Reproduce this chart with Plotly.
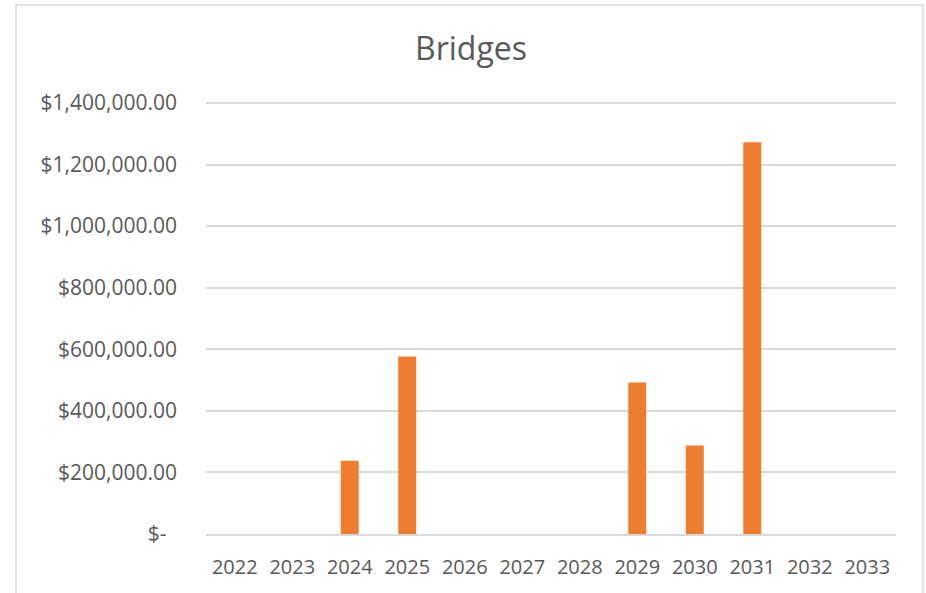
import plotly.graph_objects as go

# Annual bridge spending by year
years = ["2022", "2023", "2024", "2025", "2026", "2027",
         "2028", "2029", "2030", "2031", "2032", "2033"]
spending = [0, 0, 238000, 576600, 0, 0, 0, 492000, 287700, 1272700, 0, 0]

# Y axis ticks in accounting style
y_ticks = [0, 200000, 400000, 600000, 800000, 1000000, 1200000, 1400000]
y_tick_labels = ["$-\u2002" if v == 0 else f"${v:,.2f}" for v in y_ticks]
y_max = 1406500  # headroom so the top gridline is not clipped at the edge

W, H = 926, 593
L, R, T, B = 206, 30, 101, 59
pw, ph = W - L - R, H - T - B

def px_x(x):
    return (x - L) / pw

def px_y(y):
    return (H - B - y) / ph

text_color = "#595959"
grid_color = "#d9d9d9"
font_family = "Open Sans, Liberation Sans, sans-serif"

fig = go.Figure(
    go.Bar(
        x=years,
        y=spending,
        marker=dict(color="#ED7D31", line=dict(width=0)),
        hovertemplate="%{x}: $%{y:,.2f}<extra></extra>",
    )
)

fig.update_layout(
    width=W,
    height=H,
    margin=dict(l=L, r=R, t=T, b=B, pad=0),
    paper_bgcolor="white",
    plot_bgcolor="white",
    bargap=0.687,
    showlegend=False,
    font=dict(family=font_family, color=text_color, size=20),
    title=dict(
        text="Bridges",
        font=dict(family=font_family, size=32, color=text_color),
        x=471 / W,
        xref="container",
        xanchor="center",
        y=1 - 49 / H,
        yref="container",
        yanchor="middle",
    ),
    xaxis=dict(
        type="category",
        showgrid=False,
        showline=True,
        linecolor=grid_color,
        linewidth=1.5,
        ticks="",
        tickfont=dict(size=20, color=text_color),
        ticklabelstandoff=14,
    ),
    yaxis=dict(
        range=[0, y_max],
        tickvals=y_ticks,
        ticktext=y_tick_labels,
        showgrid=True,
        gridcolor=grid_color,
        gridwidth=1.5,
        zeroline=False,
        showline=False,
        ticks="",
        tickfont=dict(size=21, color=text_color),
        ticklabelstandoff=28,
    ),
    shapes=[
        dict(
            type="rect",
            xref="paper",
            yref="paper",
            x0=px_x(16),
            x1=px_x(923),
            y0=px_y(605),
            y1=px_y(5),
            line=dict(color=grid_color, width=1.5),
            fillcolor="rgba(0,0,0,0)",
            layer="below",
        )
    ],
)

fig.write_html("out.html")
